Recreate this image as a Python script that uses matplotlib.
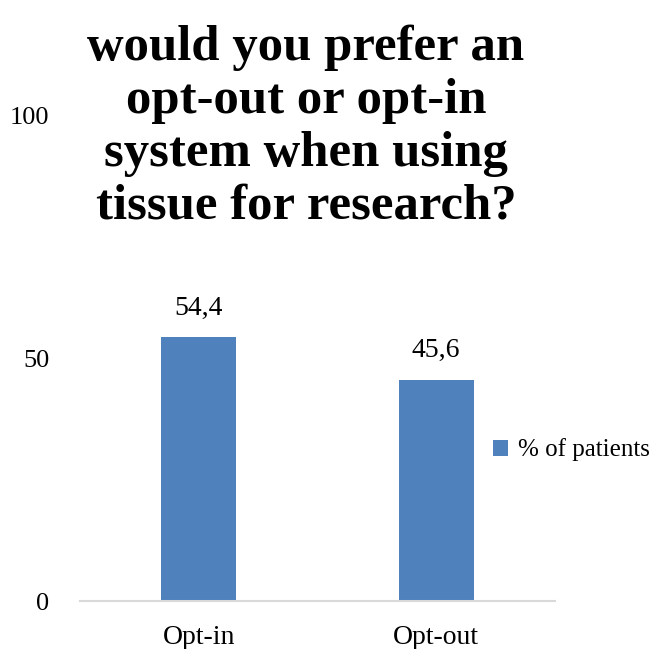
import matplotlib
matplotlib.use("Agg")
import matplotlib.pyplot as plt

categories = ["Opt-in", "Opt-out"]
patients_pct = [54.4, 45.6]
value_labels = ["54,4", "45,6"]
yticks = [0, 50, 100]
series_name = "% of patients"
title = "would you prefer an\nopt-out or opt-in\nsystem when using\ntissue for research?"

bar_color = "#4f81bd"
plt.rcParams["font.family"] = ["Liberation Serif", "DejaVu Serif"]

W, H = 662, 649
fig = plt.figure(figsize=(W / 100, H / 100), dpi=100)
# axes box in pixels: left 80, right 555, bottom 601, top 116
ax = fig.add_axes([80 / W, (H - 601) / H, 475 / W, 485 / H])

x = range(len(categories))
bars = ax.bar(x, patients_pct, width=0.316, color=bar_color, zorder=2)
for b, lab in zip(bars, value_labels):
    ax.annotate(lab, (b.get_x() + b.get_width() / 2, b.get_height()),
                xytext=(0, 12), textcoords="offset points",
                ha="center", va="bottom", fontsize=20)

ax.set_xlim(-0.5, 1.5)
ax.set_ylim(0, 100)
ax.set_yticks(yticks)
ax.set_xticks(list(x))
ax.set_xticklabels(categories)
ax.tick_params(axis="both", length=0, labelsize=20)
ax.tick_params(axis="y", labelsize=19, pad=22)
ax.tick_params(axis="x", pad=17)
for side in ["top", "right", "left"]:
    ax.spines[side].set_visible(False)
ax.spines["bottom"].set_color("#d9d9d9")
ax.spines["bottom"].set_linewidth(1.5)

fig.text(306 / W, 1 - 127 / H, title, ha="center", va="center",
         fontsize=36.5, fontweight="bold", linespacing=1.19)

ax.legend([bars[0]], [series_name], loc="center left",
          bbox_to_anchor=(480 / W, 1 - 450 / H), bbox_transform=fig.transFigure,
          frameon=False, fontsize=18, handlelength=0.6, handleheight=0.6,
          handletextpad=0.4, borderpad=0)

fig.savefig("out.png", dpi=100)
